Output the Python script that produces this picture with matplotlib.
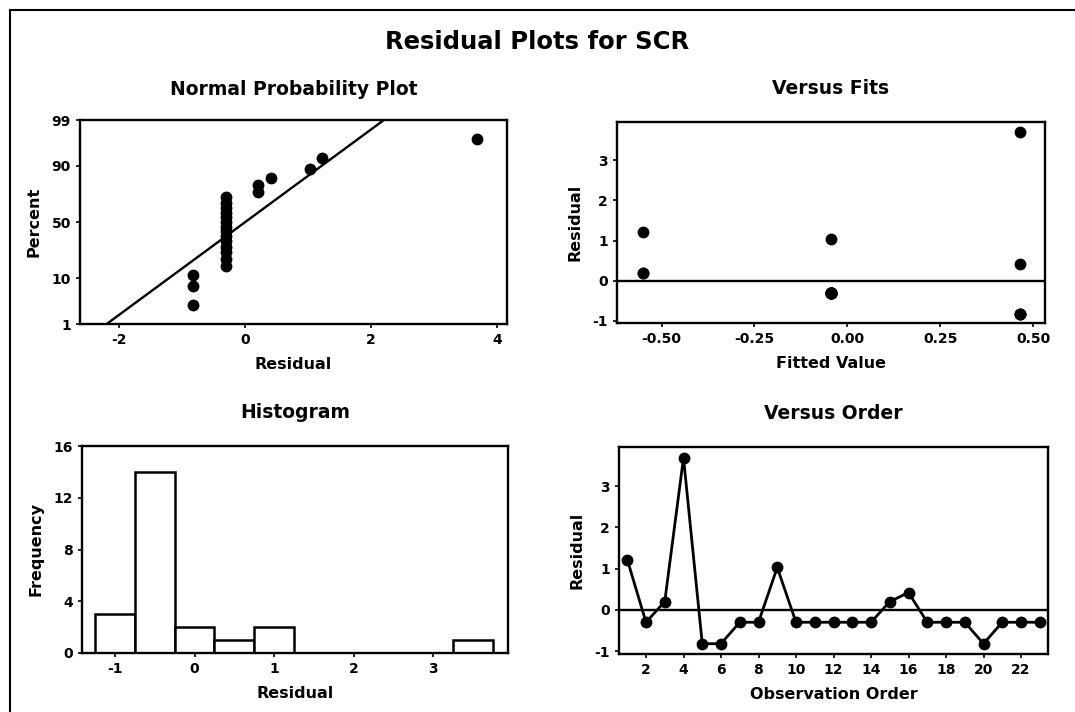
import numpy as np
import matplotlib
matplotlib.use("Agg")
import matplotlib.pyplot as plt
from matplotlib.lines import Line2D
from statistics import NormalDist

# Residuals in observation order
residuals = [1.22, -0.30, 0.20, 3.69, -0.82, -0.82, -0.30, -0.30, 1.03, -0.30,
             -0.30, -0.30, -0.30, -0.30, 0.20, 0.42, -0.30, -0.30, -0.30, -0.82,
             -0.30, -0.30, -0.30]
# Fitted values in observation order
fitted = [-0.55, -0.045, -0.55, 0.465, 0.465, 0.465, -0.045, -0.045, -0.045, -0.045,
          -0.045, -0.045, -0.045, -0.045, -0.55, 0.465, -0.045, -0.045, -0.045, 0.465,
          -0.045, -0.045, -0.045]
# Histogram bins (width 0.5) and their counts
bin_centers = [-1.0, -0.5, 0.0, 0.5, 1.0, 1.5, 2.0, 2.5, 3.0, 3.5]
bin_counts = [3, 14, 2, 1, 2, 0, 0, 0, 0, 1]
prob_ticks = [1, 10, 50, 90, 99]
hist_yticks = [0, 4, 8, 12, 16]
order_xticks = [2, 4, 6, 8, 10, 12, 14, 16, 18, 20, 22]
fits_xticks = [-0.50, -0.25, 0.00, 0.25, 0.50]

plt.rcParams['font.family'] = ['DejaVu Sans']
plt.rcParams['font.weight'] = 'bold'
plt.rcParams['axes.unicode_minus'] = False
plt.rcParams['axes.linewidth'] = 1.7
plt.rcParams['xtick.major.width'] = 1.2
plt.rcParams['ytick.major.width'] = 1.2
plt.rcParams['xtick.major.size'] = 3
plt.rcParams['ytick.major.size'] = 3

W, H = 1075, 712
fig = plt.figure(figsize=(W / 100, H / 100), dpi=100)


def box(l, t, r, b):
    return [l / W, (H - b) / H, (r - l) / W, (b - t) / H]


TICK_FS = 10
LAB_FS = 11.5
SUB_FS = 13.5
MS = 7.5

nd = NormalDist()
res = np.array(residuals)
n = len(res)

# --- Normal probability plot ---
ax1 = fig.add_axes(box(80, 120, 507, 324))
sorted_res = np.sort(res)
pp = (np.arange(1, n + 1) - 0.3) / (n + 0.4)
zz = np.array([nd.inv_cdf(p) for p in pp])
ax1.plot(sorted_res, zz, 'o', color='black', markersize=MS, zorder=3)
mu, sd = res.mean(), res.std(ddof=1)
xl = np.array([-3.0, 5.0])
ax1.plot(xl, (xl - mu) / sd, color='black', linewidth=1.7, zorder=2)
ax1.set_xlim(-2.62, 4.16)
ax1.set_ylim(nd.inv_cdf(0.01), nd.inv_cdf(0.99))
ax1.set_yticks([nd.inv_cdf(p / 100) for p in prob_ticks])
ax1.set_yticklabels([str(p) for p in prob_ticks])
ax1.set_xticks([-2, 0, 2, 4])
ax1.set_title('Normal Probability Plot', fontsize=SUB_FS, fontweight='bold', pad=18)
ax1.set_xlabel('Residual', fontsize=LAB_FS, fontweight='bold', labelpad=7)
ax1.set_ylabel('Percent', fontsize=LAB_FS, fontweight='bold', labelpad=7)

# --- Versus fits ---
ax2 = fig.add_axes(box(617, 122, 1045, 323))
ax2.plot(fitted, residuals, 'o', color='black', markersize=MS, zorder=3)
ax2.axhline(0, color='black', linewidth=1.7, zorder=2)
ax2.set_xlim(-0.62, 0.532)
ax2.set_ylim(-1.05, 3.95)
ax2.set_xticks(fits_xticks)
ax2.set_xticklabels([f'{v:.2f}' for v in fits_xticks])
ax2.set_yticks([-1, 0, 1, 2, 3])
ax2.set_title('Versus Fits', fontsize=SUB_FS, fontweight='bold', pad=20)
ax2.set_xlabel('Fitted Value', fontsize=LAB_FS, fontweight='bold', labelpad=7)
ax2.set_ylabel('Residual', fontsize=LAB_FS, fontweight='bold', labelpad=7)

# --- Histogram ---
ax3 = fig.add_axes(box(82, 446, 508, 653))
ax3.bar(bin_centers, bin_counts, width=0.5, color='white', edgecolor='black',
        linewidth=1.8, zorder=2)
ax3.set_xlim(-1.415, 3.94)
ax3.set_ylim(0, 16)
ax3.set_yticks(hist_yticks)
ax3.set_xticks([-1, 0, 1, 2, 3])
ax3.set_title('Histogram', fontsize=SUB_FS, fontweight='bold', pad=20)
ax3.set_xlabel('Residual', fontsize=LAB_FS, fontweight='bold', labelpad=7)
ax3.set_ylabel('Frequency', fontsize=LAB_FS, fontweight='bold', labelpad=7)

# --- Versus order ---
ax4 = fig.add_axes(box(619, 447, 1048, 654))
obs = np.arange(1, n + 1)
ax4.plot(obs, residuals, '-o', color='black', linewidth=2.0, markersize=MS, zorder=3)
ax4.axhline(0, color='black', linewidth=1.7, zorder=2)
ax4.set_xlim(0.56, 23.44)
ax4.set_ylim(-1.07, 3.95)
ax4.set_xticks(order_xticks)
ax4.set_yticks([-1, 0, 1, 2, 3])
ax4.set_title('Versus Order', fontsize=SUB_FS, fontweight='bold', pad=20)
ax4.set_xlabel('Observation Order', fontsize=LAB_FS, fontweight='bold', labelpad=7)
ax4.set_ylabel('Residual', fontsize=LAB_FS, fontweight='bold', labelpad=7)

for ax in (ax1, ax2, ax3, ax4):
    ax.tick_params(labelsize=TICK_FS, direction='out')
    for lbl in ax.get_xticklabels() + ax.get_yticklabels():
        lbl.set_fontweight('bold')

fig.text(0.5, (H - 42) / H, 'Residual Plots for SCR', ha='center', va='center',
         fontsize=17.5, fontweight='bold')

# Outer frame lines along the top and left edges
fig.add_artist(Line2D([10 / W, 1.0], [(H - 10) / H, (H - 10) / H],
                      transform=fig.transFigure, color='black', linewidth=1.5))
fig.add_artist(Line2D([10 / W, 10 / W], [0.0, (H - 10) / H],
                      transform=fig.transFigure, color='black', linewidth=1.5))

fig.savefig('out.png', dpi=100, facecolor='white')
